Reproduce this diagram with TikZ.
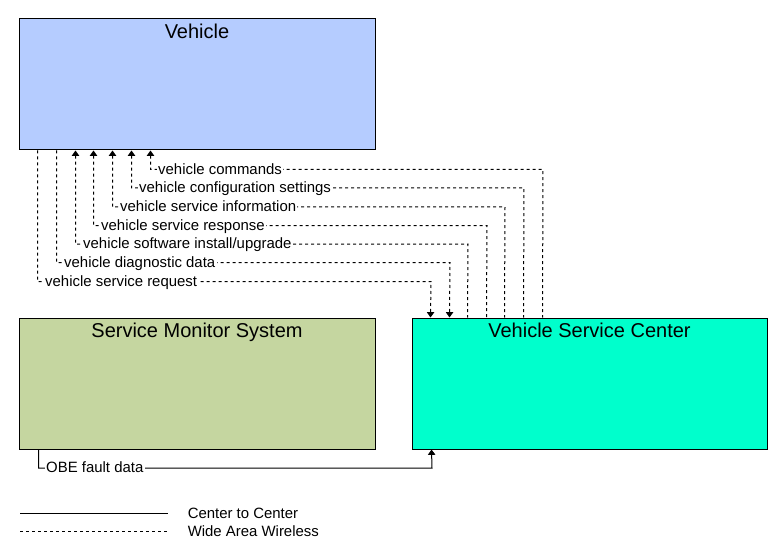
\documentclass[tikz,border=0pt]{standalone}
\usepackage{fontspec}
\setmainfont{Liberation Sans}
\usetikzlibrary{arrows.meta}
\usetikzlibrary{positioning}
\definecolor{vehiclefill}{RGB}{181,204,255}
\definecolor{monitorfill}{RGB}{197,214,160}
\definecolor{centerfill}{RGB}{0,255,204}
\tikzset{element/.style = {draw=black, line width=0.75pt, inner sep=0pt,
                           minimum width=267pt, minimum height=98.25pt}}
\tikzset{title/.style = {anchor=north, inner sep=0pt, yshift=-3.75pt,
                         font=\fontsize{15}{18}\selectfont}}
\tikzset{flowlabel/.style = {anchor=base west, fill=white, inner xsep=1pt, inner ysep=0.5pt,
                             xshift=4.4pt, yshift=-3.4pt, font=\fontsize{11.2}{13}\selectfont}}
\tikzset{legendtext/.style = {anchor=west, inner sep=0pt, font=\fontsize{11.2}{13}\selectfont}}
\tikzset{wireless/.style = {line width=0.75pt, dash pattern=on 2.25pt off 2.25pt}}
\tikzset{c2c/.style = {line width=0.75pt}}
\tikzset{flowtip/.style = {-{Triangle[length=4pt, width=5.5pt]}}}
\tikzset{intip/.style = {{Triangle[length=4pt, width=5.5pt]}-}}

\begin{document}
\begin{tikzpicture}[x=0.75pt, y=-0.75pt]
    \useasboundingbox (0, 0) rectangle (783, 560);

    \node [element, fill=vehiclefill, label={[title]north:Vehicle}] (vehicle) at (197, 84.5) {};
    \node [element, fill=monitorfill, label={[title]north:Service Monitor System}] (monitor) at (197, 383.5) {};
    \node [element, fill=centerfill, minimum width=266.25pt,
           label={[title]north:Vehicle Service Center}] (vsc) at (589.5, 383.5) {};

    % turning points of the flows
    \coordinate (commands turn) at (543, 169.5);
    \coordinate (config turn) at (524, 188);
    \coordinate (info turn) at (505, 207);
    \coordinate (response turn) at (487, 225.5);
    \coordinate (software turn) at (468, 244);
    \coordinate (diag turn) at (450, 262.5);
    \coordinate (request turn) at (431, 281.5);
    \coordinate (obe turn) at (432, 468);

    \draw [wireless, intip] ([xshift=99pt]vehicle.south west) |- node [flowlabel, pos=0.5] {vehicle commands} (commands turn) -- ([xshift=98.25pt]vsc.north west);
    \draw [wireless, intip] ([xshift=84.75pt]vehicle.south west) |- node [flowlabel, pos=0.5] {vehicle configuration settings} (config turn) -- ([xshift=84pt]vsc.north west);
    \draw [wireless, intip] ([xshift=70.5pt]vehicle.south west) |- node [flowlabel, pos=0.5] {vehicle service information} (info turn) -- ([xshift=69.75pt]vsc.north west);
    \draw [wireless, intip] ([xshift=56.25pt]vehicle.south west) |- node [flowlabel, pos=0.5] {vehicle service response} (response turn) -- ([xshift=56.25pt]vsc.north west);
    \draw [wireless, intip] ([xshift=42.75pt]vehicle.south west) |- node [flowlabel, pos=0.5] {vehicle software install/upgrade} (software turn) -- ([xshift=42pt]vsc.north west);
    \draw [wireless, flowtip] ([xshift=28.5pt]vehicle.south west) |- node [flowlabel, pos=0.5] {vehicle diagnostic data} (diag turn) -- ([xshift=28.5pt]vsc.north west);
    \draw [wireless, flowtip] ([xshift=14.25pt]vehicle.south west) |- node [flowlabel, pos=0.5] {vehicle service request} (request turn) -- ([xshift=14.25pt]vsc.north west);

    \draw [c2c, flowtip] ([xshift=15pt]monitor.south west) |- node [flowlabel, pos=0.5] {OBE fault data} (obe turn) -- ([xshift=15pt]vsc.south west);

    % legend
    \coordinate (c2c start) at (20, 513);
    \coordinate (c2c end) at (168, 513);
    \coordinate (wireless start) at (20, 531);
    \coordinate (wireless end) at (168, 531);
    \node [legendtext] (c2c text) at (187.5, 513.5) {Center to Center};
    \node [legendtext] (wireless text) at (187.5, 531.5) {Wide Area Wireless};
    \draw [c2c] (c2c start) -- (c2c end);
    \draw [wireless] (wireless start) -- (wireless end);
\end{tikzpicture}
\end{document}
